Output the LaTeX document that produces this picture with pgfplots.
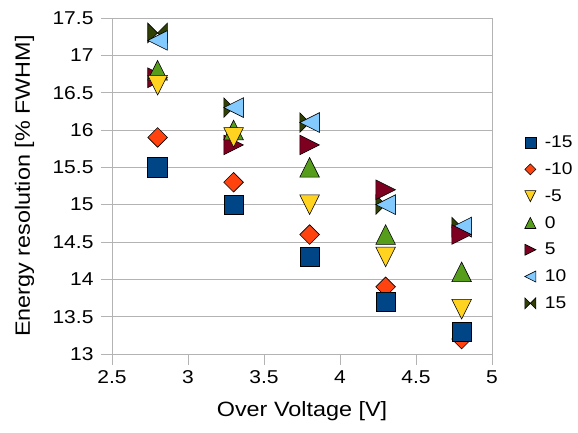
\documentclass[border=0pt]{standalone}
\usepackage{fontspec}
\setmainfont{Liberation Sans}[FakeStretch=1.13]
\usepackage{pgfplots}
\pgfplotsset{compat=1.18}

\definecolor{cA}{HTML}{004586}
\definecolor{cB}{HTML}{FF420E}
\definecolor{cC}{HTML}{FFD320}
\definecolor{cD}{HTML}{579D1C}
\definecolor{cE}{HTML}{7E0021}
\definecolor{cF}{HTML}{83CAFF}
\definecolor{cG}{HTML}{314004}
\definecolor{gridgray}{HTML}{B3B3B3}

% marks that fill their box, like the office symbols
\pgfdeclareplotmark{ldiamond}{%
  \pgfpathmoveto{\pgfqpoint{0pt}{\pgfplotmarksize}}%
  \pgfpathlineto{\pgfqpoint{\pgfplotmarksize}{0pt}}%
  \pgfpathlineto{\pgfqpoint{0pt}{-\pgfplotmarksize}}%
  \pgfpathlineto{\pgfqpoint{-\pgfplotmarksize}{0pt}}%
  \pgfpathclose\pgfusepathqfillstroke}
\pgfdeclareplotmark{tup}{%
  \pgfpathmoveto{\pgfqpoint{-\pgfplotmarksize}{-\pgfplotmarksize}}%
  \pgfpathlineto{\pgfqpoint{\pgfplotmarksize}{-\pgfplotmarksize}}%
  \pgfpathlineto{\pgfqpoint{0pt}{\pgfplotmarksize}}%
  \pgfpathclose\pgfusepathqfillstroke}
\pgfdeclareplotmark{tdown}{%
  \pgfpathmoveto{\pgfqpoint{-\pgfplotmarksize}{\pgfplotmarksize}}%
  \pgfpathlineto{\pgfqpoint{\pgfplotmarksize}{\pgfplotmarksize}}%
  \pgfpathlineto{\pgfqpoint{0pt}{-\pgfplotmarksize}}%
  \pgfpathclose\pgfusepathqfillstroke}
\pgfdeclareplotmark{tright}{%
  \pgfpathmoveto{\pgfqpoint{-\pgfplotmarksize}{\pgfplotmarksize}}%
  \pgfpathlineto{\pgfqpoint{-\pgfplotmarksize}{-\pgfplotmarksize}}%
  \pgfpathlineto{\pgfqpoint{\pgfplotmarksize}{0pt}}%
  \pgfpathclose\pgfusepathqfillstroke}
\pgfdeclareplotmark{tleft}{%
  \pgfpathmoveto{\pgfqpoint{\pgfplotmarksize}{\pgfplotmarksize}}%
  \pgfpathlineto{\pgfqpoint{\pgfplotmarksize}{-\pgfplotmarksize}}%
  \pgfpathlineto{\pgfqpoint{-\pgfplotmarksize}{0pt}}%
  \pgfpathclose\pgfusepathqfillstroke}
\pgfdeclareplotmark{bowtie}{%
  \pgfpathmoveto{\pgfqpoint{-\pgfplotmarksize}{\pgfplotmarksize}}%
  \pgfpathlineto{\pgfqpoint{-\pgfplotmarksize}{-\pgfplotmarksize}}%
  \pgfpathlineto{\pgfqpoint{\pgfplotmarksize}{\pgfplotmarksize}}%
  \pgfpathlineto{\pgfqpoint{\pgfplotmarksize}{-\pgfplotmarksize}}%
  \pgfpathclose\pgfusepathqfillstroke}

\begin{document}
\begin{tikzpicture}
  \useasboundingbox (-112pt,-78pt) rectangle (466pt,354pt);
  \begin{axis}[
      scale only axis,
      width=380pt, height=336pt,
      at={(0pt,0pt)}, anchor=south west,
      xmin=2.5, xmax=5, ymin=13, ymax=17.5,
      xtick={2.5,3,3.5,4,4.5,5},
      ytick={13,13.5,14,14.5,15,15.5,16,16.5,17,17.5},
      xtick pos=bottom, ytick pos=left,
      tick align=outside, major tick length=11pt,
      axis line style={gridgray, line width=0.8pt},
      tick style={gridgray, line width=0.8pt},
      ymajorgrids,
      grid style={gridgray, line width=0.8pt},
      /pgf/number format/assume math mode=true,
      tick label style={font=\fontsize{18.6}{22}\selectfont, black},
      xticklabel style={yshift=-2pt},
      yticklabel style={xshift=-4pt},
      label style={font=\fontsize{20.7}{24}\selectfont},
      xlabel={Over Voltage [V]},
      ylabel={Energy resolution [\% FWHM]},
      xlabel style={at={(axis description cs:0.5,-0.17)}, anchor=center},
      ylabel style={at={(axis description cs:-0.23,0.5)}, anchor=center},
      clip=false,
      only marks,
      mark size=9.8pt,
      every axis plot/.append style={draw=black, line width=0.6pt},
      legend style={draw=none, fill=none, at={(1.078,0.39)}, anchor=west,
        font=\fontsize{17}{20}\selectfont, row sep=9.5pt,
        /tikz/every odd column/.append style={column sep=7pt}},
      legend cell align=left,
    ]
    % drawn from 15 down to -15, as in the reference
    \addplot[mark=bowtie, fill=cG, forget plot] coordinates {
      (2.8,17.3) (3.3,16.3) (3.8,16.1) (4.3,15.0) (4.8,14.7)};
    \addplot[mark=tleft, fill=cF, forget plot] coordinates {
      (2.8,17.2) (3.3,16.3) (3.8,16.1) (4.3,15.0) (4.8,14.7)};
    \addplot[mark=tright, fill=cE, forget plot] coordinates {
      (2.8,16.7) (3.3,15.8) (3.8,15.8) (4.3,15.2) (4.8,14.6)};
    \addplot[mark=tup, fill=cD, forget plot] coordinates {
      (2.8,16.8) (3.3,16.0) (3.8,15.5) (4.3,14.6) (4.8,14.1)};
    \addplot[mark=tdown, fill=cC, forget plot] coordinates {
      (2.8,16.6) (3.3,15.9) (3.8,15.0) (4.3,14.3) (4.8,13.6)};
    \addplot[mark=ldiamond, fill=cB, forget plot] coordinates {
      (2.8,15.9) (3.3,15.3) (3.8,14.6) (4.3,13.9) (4.8,13.2)};
    \addplot[mark=square*, fill=cA, forget plot] coordinates {
      (2.8,15.5) (3.3,15.0) (3.8,14.3) (4.3,13.7) (4.8,13.3)};

    \addlegendimage{only marks, mark=square*, mark size=5.5pt, fill=cA, draw=black, line width=0.6pt}
    \addlegendentry{-15}
    \addlegendimage{only marks, mark=ldiamond, mark size=5.5pt, fill=cB, draw=black, line width=0.6pt}
    \addlegendentry{-10}
    \addlegendimage{only marks, mark=tdown, mark size=5.5pt, fill=cC, draw=black, line width=0.6pt}
    \addlegendentry{-5}
    \addlegendimage{only marks, mark=tup, mark size=5.5pt, fill=cD, draw=black, line width=0.6pt}
    \addlegendentry{0}
    \addlegendimage{only marks, mark=tright, mark size=5.5pt, fill=cE, draw=black, line width=0.6pt}
    \addlegendentry{5}
    \addlegendimage{only marks, mark=tleft, mark size=5.5pt, fill=cF, draw=black, line width=0.6pt}
    \addlegendentry{10}
    \addlegendimage{only marks, mark=bowtie, mark size=5.5pt, fill=cG, draw=black, line width=0.6pt}
    \addlegendentry{15}
  \end{axis}
\end{tikzpicture}
\end{document}
